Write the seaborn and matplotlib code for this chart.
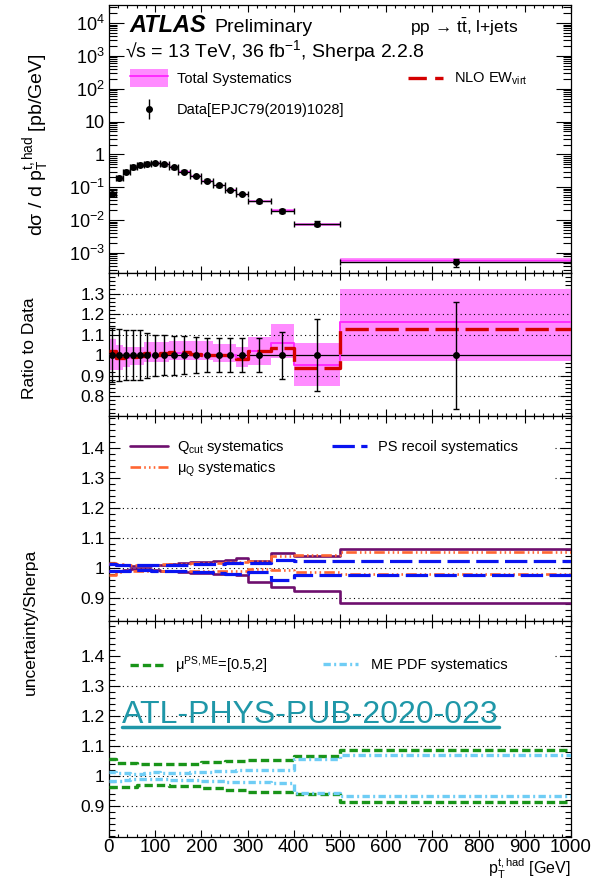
import numpy as np
import matplotlib
matplotlib.use("Agg")
import matplotlib.pyplot as plt
import matplotlib.ticker as mticker
from matplotlib.patches import Patch
from matplotlib.lines import Line2D
from matplotlib.legend_handler import HandlerTuple
import seaborn as sns

sns.set_style("ticks", {"axes.edgecolor": "black", "xtick.color": "black",
                        "ytick.color": "black", "text.color": "black",
                        "axes.labelcolor": "black"})
plt.rcParams["font.family"] = ["Liberation Sans", "DejaVu Sans"]
plt.rcParams["mathtext.fontset"] = "custom"
plt.rcParams["mathtext.rm"] = "Liberation Sans"
plt.rcParams["mathtext.it"] = "Liberation Sans:italic"
plt.rcParams["mathtext.bf"] = "Liberation Sans:bold"

# ---------------- data ----------------
bin_edges = [0, 15, 30, 45, 60, 75, 90, 110, 130, 150, 175, 200, 225, 250, 275, 300, 350, 400, 500, 1000]
xsec_data = [0.061, 0.19, 0.30, 0.42, 0.49, 0.52, 0.55, 0.50, 0.41, 0.30, 0.22, 0.16,
             0.115, 0.083, 0.062, 0.037, 0.019, 0.0078, 0.00052]
data_rel_err = [0.13, 0.125, 0.12, 0.12, 0.12, 0.11, 0.10, 0.097, 0.095, 0.092, 0.087, 0.082,
                0.084, 0.084, 0.082, 0.083, 0.115, 0.175, 0.26]

# ratio to data
syst_lo = [0.93, 0.926, 0.94, 0.95, 0.95, 0.966, 0.966, 0.966, 0.974, 0.974, 0.974, 0.974,
           0.966, 0.966, 0.94, 0.95, 0.985, 0.85, 0.97]
syst_hi = [1.08, 1.047, 1.04, 1.04, 1.04, 1.063, 1.063, 1.063, 1.07, 1.07, 1.07, 1.07,
           1.055, 1.055, 1.04, 1.09, 1.15, 1.06, 1.32]
syst_nom = [1.0, 0.98, 0.985, 0.99, 0.995, 1.005, 1.0, 1.005, 1.01, 1.01, 1.0, 1.0,
            1.0, 1.0, 0.985, 1.02, 1.06, 0.95, 1.16]
nlo_ew = [1.02, 0.985, 0.985, 0.99, 0.995, 1.01, 1.0, 1.01, 1.015, 1.015, 1.005, 1.0,
          1.0, 1.0, 0.98, 1.02, 1.035, 0.937, 1.125]

# uncertainty / Sherpa
qcut_up = [1.012, 1.01, 1.008, 1.006, 1.005, 1.006, 1.008, 1.01, 1.012, 1.015, 1.018, 1.02,
           1.022, 1.025, 1.031, 1.022, 1.048, 1.039, 1.063]
qcut_dn = [0.99, 0.99, 0.992, 0.994, 0.995, 0.994, 0.992, 0.99, 0.988, 0.985, 0.983, 0.982,
           0.98, 0.978, 0.976, 0.952, 0.937, 0.922, 0.882]
muq_up = [1.015, 1.012, 1.01, 1.008, 1.008, 1.01, 1.01, 1.012, 1.012, 1.013, 1.015, 1.015,
          1.017, 1.018, 1.02, 1.022, 1.04, 1.041, 1.053]
muq_dn = [0.975, 0.985, 0.988, 0.99, 0.99, 0.99, 0.99, 0.99, 0.99, 0.99, 0.99, 0.99,
          0.99, 0.99, 0.99, 0.994, 0.991, 0.987, 0.98]
recoil_up = [1.012, 1.01, 1.01, 1.008, 1.008, 1.008, 1.008, 1.01, 1.01, 1.01, 1.012, 1.012,
             1.013, 1.015, 1.015, 1.017, 1.025, 1.022, 1.022]
recoil_dn = [0.99, 0.99, 0.99, 0.992, 0.992, 0.992, 0.99, 0.99, 0.99, 0.988, 0.985, 0.985,
             0.983, 0.978, 0.978, 0.985, 0.959, 0.975, 0.976]
scale_up = [1.058, 1.044, 1.044, 1.044, 1.04, 1.04, 1.04, 1.04, 1.042, 1.042, 1.042, 1.046,
            1.046, 1.049, 1.049, 1.053, 1.053, 1.067, 1.088]
scale_dn = [0.965, 0.965, 0.965, 0.965, 0.97, 0.97, 0.97, 0.97, 0.968, 0.968, 0.968, 0.962,
            0.962, 0.955, 0.955, 0.946, 0.946, 0.94, 0.913]
pdf_up = [1.015, 1.012, 1.01, 1.008, 1.008, 1.01, 1.015, 1.012, 1.012, 1.012, 1.014, 1.015,
          1.016, 1.018, 1.02, 1.02, 1.022, 1.058, 1.069]
pdf_dn = [0.985, 0.985, 0.988, 0.99, 0.99, 0.99, 0.99, 0.99, 0.988, 0.988, 0.986, 0.985,
          0.984, 0.982, 0.98, 0.98, 0.978, 0.945, 0.934]

edges = np.array(bin_edges, dtype=float)
centers = 0.5 * (edges[1:] + edges[:-1])
halfw = 0.5 * (edges[1:] - edges[:-1])
xsec = np.array(xsec_data)
rel = np.array(data_rel_err)

C_BAND, C_MAG, C_RED = "#ff8cff", "#ff2bff", "#d40000"
C_PUR, C_ORA, C_BLU = "#6e0f6e", "#ff6633", "#0a14f0"
C_GRN, C_LBL, C_TEAL = "#199419", "#6fcdf5", "#1f97a8"

LS_RED = (0, (7, 2))
LS_BLU = (0, (7, 2))
LS_ORA = (0, (4, 1.2, 0.6, 1.2, 0.6, 1.2, 0.6, 1.2))
LS_GRN = (0, (2.5, 1.2))
LS_LBL = (0, (2.2, 1, 0.6, 1))
GRID_LS = (0, (1, 3))


def stairs(ax, vals, color, lw, ls="-", z=3):
    y = np.append(vals, vals[-1])
    sns.lineplot(x=edges, y=y, ax=ax, drawstyle="steps-post", color=color,
                 linewidth=lw, linestyle=ls, estimator=None, sort=False,
                 legend=False, zorder=z)


def band(ax, lo, hi, color, z=1):
    ax.fill_between(edges, np.append(lo, lo[-1]), np.append(hi, hi[-1]),
                    step="post", color=color, linewidth=0, zorder=z)


fig = plt.figure(figsize=(5.94, 8.81), dpi=100)
L, W = 109 / 594, 462 / 594


def panel(top_px, bot_px):
    return fig.add_axes([L, 1 - bot_px / 881, W, (bot_px - top_px) / 881])


ax1 = panel(5, 273)
ax2 = panel(273, 415.7)
ax3 = panel(415.7, 621)
ax4 = panel(621, 837)

for ax in (ax1, ax2, ax3, ax4):
    ax.set_xlim(0, 1000)
    ax.xaxis.set_major_locator(mticker.MultipleLocator(100))
    ax.xaxis.set_minor_locator(mticker.MultipleLocator(20))
    ax.tick_params(which="both", direction="in", top=True, right=True, width=0.8)
    ax.tick_params(axis="x", which="major", length=5)
    ax.tick_params(axis="x", which="minor", length=2.5)
    for sp in ax.spines.values():
        sp.set_linewidth(0.9)
        sp.set_color("black")
    ax.set_xlabel("")
    ax.set_ylabel("")
    if ax is not ax4:
        ax.tick_params(axis="x", labelbottom=False)

# ---------------- panel 1: cross section ----------------
ax1.set_yscale("log")
ax1.set_ylim(10 ** -3.609, 10 ** 4.548)
band(ax1, xsec * np.array(syst_lo), xsec * np.array(syst_hi), C_BAND)
ax1.hlines(xsec * np.array(syst_nom), edges[:-1], edges[1:], color=C_MAG, lw=1.0, zorder=2)
ax1.errorbar(centers, xsec, xerr=halfw, yerr=xsec * rel, fmt="o", color="k",
             ms=4, lw=1, capsize=2.2, capthick=1, zorder=5)
dec = [1e-3, 1e-2, 1e-1, 1, 10, 1e2, 1e3, 1e4]
dec_lab = ["10$^{-3}$", "10$^{-2}$", "10$^{-1}$", "1", "10", "10$^{2}$", "10$^{3}$", "10$^{4}$"]
ax1.yaxis.set_major_locator(mticker.FixedLocator(dec))
ax1.yaxis.set_major_formatter(mticker.FixedFormatter(dec_lab))
ax1.yaxis.set_minor_locator(mticker.LogLocator(base=10, subs=np.arange(2, 10), numticks=100))
ax1.yaxis.set_minor_formatter(mticker.NullFormatter())
ax1.tick_params(axis="y", which="major", length=11, labelsize=13, pad=3)
ax1.tick_params(axis="y", which="minor", length=5.5)

# ---------------- panel 2: ratio to data ----------------
ax2.set_ylim(0.705, 1.40)
band(ax2, syst_lo, syst_hi, C_BAND)
for g in [0.8, 0.9, 1.1, 1.2, 1.3]:
    ax2.axhline(g, color="k", lw=0.8, linestyle=GRID_LS, zorder=2)
ax2.axhline(1.0, color="k", lw=0.9, zorder=3)
stairs(ax2, syst_nom, C_MAG, 1.4, z=3)
stairs(ax2, nlo_ew, C_RED, 2.4, LS_RED, z=4)
ax2.errorbar(centers, xsec / xsec, yerr=rel, fmt="o", color="k", ms=4, lw=1,
             capsize=2.2, capthick=1, zorder=5)

# ---------------- panel 3 / 4: uncertainty / Sherpa ----------------
ax3.set_ylim(0.822, 1.507)
ax4.set_ylim(0.797, 1.517)
for ax in (ax3, ax4):
    for g in [0.9, 1.0, 1.1, 1.2, 1.3, 1.4]:
        start = 0.0
        if g == 1.4 or (ax is ax3 and g == 1.3):
            start = 0.965
        ax.axhline(g, xmin=start, color="k", lw=0.8, linestyle=GRID_LS, zorder=1)

for vals in (qcut_up, qcut_dn):
    stairs(ax3, vals, C_PUR, 1.9, "-", z=3)
for vals in (muq_up, muq_dn):
    stairs(ax3, vals, C_ORA, 1.9, LS_ORA, z=4)
for vals in (recoil_up, recoil_dn):
    stairs(ax3, vals, C_BLU, 2.3, LS_BLU, z=5)
for vals in (scale_up, scale_dn):
    stairs(ax4, vals, C_GRN, 2.4, LS_GRN, z=3)
for vals in (pdf_up, pdf_dn):
    stairs(ax4, vals, C_LBL, 2.4, LS_LBL, z=4)

ratio_ticks = {ax2: [0.8, 0.9, 1.0, 1.1, 1.2, 1.3],
               ax3: [0.9, 1.0, 1.1, 1.2, 1.3, 1.4],
               ax4: [0.9, 1.0, 1.1, 1.2, 1.3, 1.4]}
for ax, tk in ratio_ticks.items():
    ax.yaxis.set_major_locator(mticker.FixedLocator(tk))
    ax.yaxis.set_major_formatter(mticker.FixedFormatter([f"{t:g}" for t in tk]))
    ax.yaxis.set_minor_locator(mticker.MultipleLocator(0.02))
    ax.tick_params(axis="y", which="major", length=8, labelsize=12.5, pad=3)
    ax.tick_params(axis="y", which="minor", length=4)

ax4.tick_params(axis="x", labelsize=13.5, pad=1.5)

# ---------------- legends ----------------
FS = 10.5
FSPX = FS * 100 / 72


def key(handle, label, x_px, y_px, hl_px, text_px, hh=0.7):
    fig.legend([handle], [label], loc="center left",
               bbox_to_anchor=(x_px / 594, 1 - y_px / 881),
               bbox_transform=fig.transFigure, frameon=False, borderpad=0,
               borderaxespad=0, handlelength=hl_px / FSPX,
               handletextpad=(text_px - x_px - hl_px) / FSPX,
               handleheight=hh, fontsize=FS,
               handler_map={tuple: HandlerTuple(ndivide=1, pad=0)})


key((Patch(facecolor=C_BAND, edgecolor="none"), Line2D([], [], color=C_MAG, lw=1.4)),
    "Total Systematics", 130, 78, 38, 177, hh=22.6 / FSPX)
key(Line2D([], [], color=C_RED, lw=2.4, linestyle=(0, (5.5, 2.5, 2.5, 2.5))),
    "NLO EW$_{\\mathrm{virt}}$", 408, 79, 39, 454)
key((Line2D([], [], marker="|", ms=14, mew=1, color="k", ls="none"),
     Line2D([], [], marker="o", ms=4, color="k", ls="none")),
    "Data[EPJC79(2019)1028]", 130, 110, 38, 177)

key(Line2D([], [], color=C_PUR, lw=1.9), "Q$_{\\mathrm{cut}}$ systematics", 130, 447, 38, 177)
key(Line2D([], [], color=C_ORA, lw=1.9, linestyle=LS_ORA), "μ$_{\\mathrm{Q}}$ systematics",
    130, 469, 38, 177)
key(Line2D([], [], color=C_BLU, lw=2.3, linestyle=LS_BLU), "PS recoil systematics",
    332, 447, 35, 378)
key(Line2D([], [], color=C_GRN, lw=2.4, linestyle=LS_GRN), "μ$^{\\mathrm{PS,ME}}$=[0.5,2]",
    130, 665, 33, 175)
key(Line2D([], [], color=C_LBL, lw=2.4, linestyle=LS_LBL), "ME PDF systematics",
    323, 665, 35, 371)

# ---------------- texts ----------------
fig.text(129 / 594, 1 - 32 / 881, "ATLAS", fontsize=17, fontweight="bold",
         fontstyle="italic", va="baseline")
fig.text(214 / 594, 1 - 32 / 881, "Preliminary", fontsize=14, va="baseline")
fig.text(125 / 594, 1 - 57 / 881, "√s = 13 TeV, 36 fb$^{-1}$, Sherpa 2.2.8",
         fontsize=14, va="baseline")
fig.text(410 / 594, 1 - 33 / 881, "pp → t$\\bar{\\mathrm{t}}$, l+jets",
         fontsize=12.5, va="baseline")

fig.text(37 / 594, 1 - 145 / 881, "dσ / d p$_{\\mathrm{T}}^{\\mathrm{t,had}}$ [pb/GeV]",
         rotation=90, fontsize=14, ha="center", va="center")
fig.text(30 / 594, 1 - 348 / 881, "Ratio to Data", rotation=90, fontsize=12.5,
         ha="center", va="center")
fig.text(30 / 594, 1 - 622 / 881, "uncertainty/Sherpa", rotation=90, fontsize=12.5,
         ha="center", va="center")
fig.text(571 / 594, 1 - 868.5 / 881, "p$_{\\mathrm{T}}^{\\mathrm{t,had}}$ [GeV]",
         fontsize=11.5, ha="right", va="center")

wm = fig.text(122 / 594, 1 - 723 / 881, "ATL-PHYS-PUB-2020-023", fontsize=23,
              color=C_TEAL, va="baseline")
fig.canvas.draw()
bb = wm.get_window_extent(fig.canvas.get_renderer())
uy = 1 - 727 / 881
fig.add_artist(Line2D([bb.x0 / fig.bbox.width, bb.x1 / fig.bbox.width], [uy, uy],
                      transform=fig.transFigure, color=C_TEAL, lw=2.5))

fig.savefig("out.png", dpi=100)
